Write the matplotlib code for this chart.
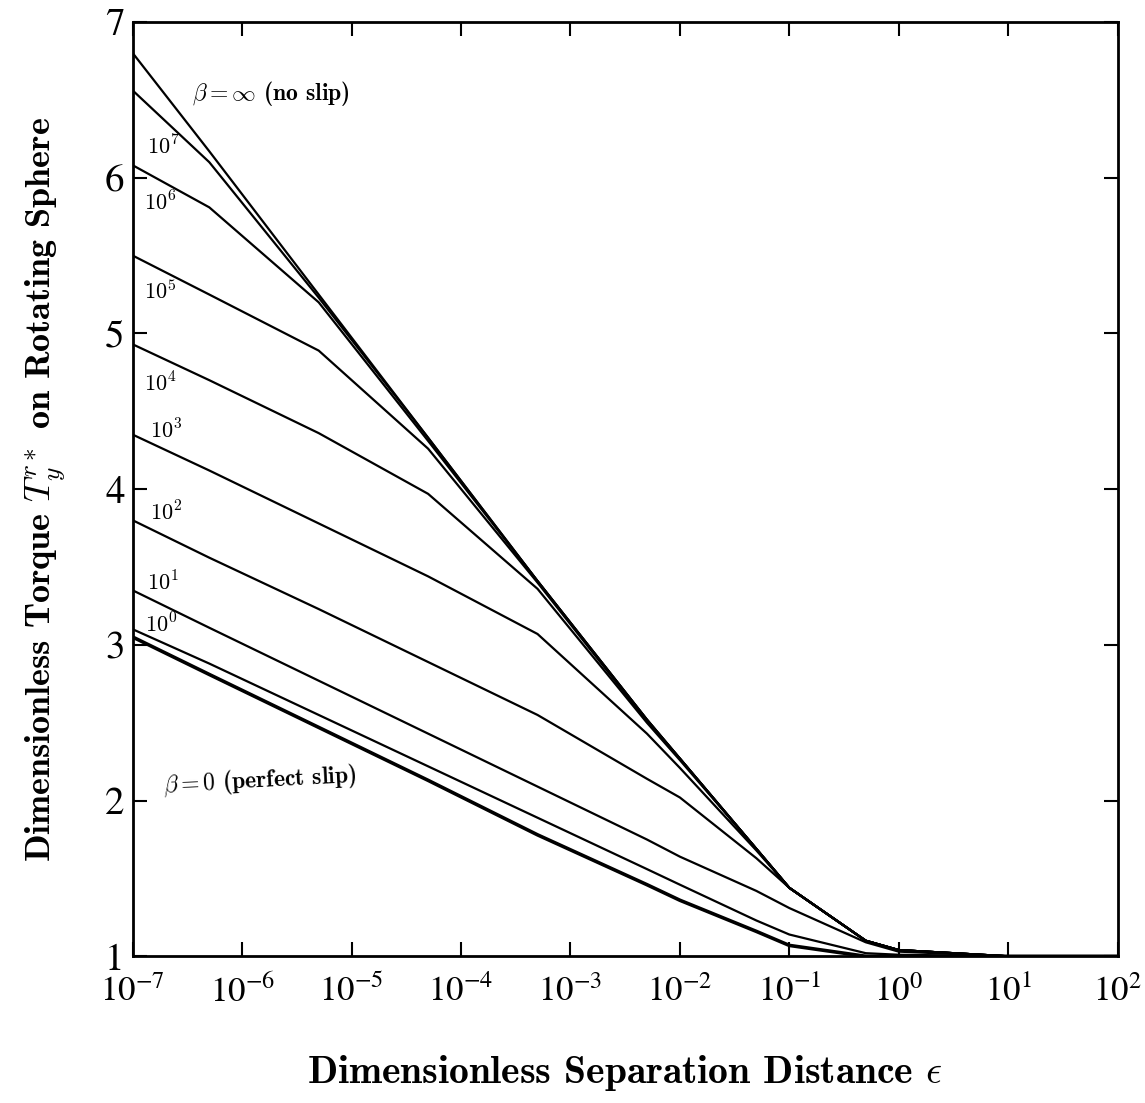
import matplotlib
matplotlib.use("Agg")
import matplotlib.pyplot as plt

# Separation distances (epsilon) at which each curve was read.
EPS = [1e-7, 5e-7, 5e-6, 5e-5, 5e-4, 5e-3, 1e-2, 5e-2, 1e-1, 5e-1, 1, 10, 100]

# Dimensionless torque for each slip coefficient beta.
T_INF = [6.80, 6.17, 5.25, 4.33, 3.41, 2.52, 2.27, 1.69, 1.44, 1.10, 1.04, 1.00, 1.00]
T_1E7 = [6.56, 6.10, 5.23, 4.33, 3.41, 2.52, 2.27, 1.69, 1.44, 1.10, 1.04, 1.00, 1.00]
T_1E6 = [6.08, 5.81, 5.20, 4.31, 3.41, 2.52, 2.27, 1.69, 1.44, 1.10, 1.04, 1.00, 1.00]
T_1E5 = [5.50, 5.25, 4.89, 4.26, 3.40, 2.51, 2.27, 1.69, 1.44, 1.10, 1.04, 1.00, 1.00]
T_1E4 = [4.93, 4.70, 4.36, 3.97, 3.36, 2.50, 2.26, 1.69, 1.44, 1.10, 1.04, 1.00, 1.00]
T_1E3 = [4.35, 4.12, 3.78, 3.44, 3.07, 2.43, 2.21, 1.68, 1.44, 1.10, 1.04, 1.00, 1.00]
T_1E2 = [3.80, 3.56, 3.23, 2.89, 2.55, 2.14, 2.02, 1.63, 1.44, 1.10, 1.04, 1.00, 1.00]
T_1E1 = [3.35, 3.11, 2.77, 2.43, 2.09, 1.75, 1.64, 1.42, 1.31, 1.09, 1.03, 1.00, 1.00]
T_1E0 = [3.10, 2.88, 2.55, 2.22, 1.89, 1.56, 1.46, 1.23, 1.14, 1.02, 1.01, 1.00, 1.00]
T_ZERO = [3.05, 2.81, 2.47, 2.13, 1.78, 1.46, 1.36, 1.16, 1.07, 1.00, 1.00, 1.00, 1.00]

CURVES = [T_INF, T_1E7, T_1E6, T_1E5, T_1E4, T_1E3, T_1E2, T_1E1, T_1E0, T_ZERO]

# Curve labels: (text, epsilon, torque)
LABELS = [
    (r"$\mathbf{10^7}$", 1.34e-7, 6.20),
    (r"$\mathbf{10^6}$", 1.27e-7, 5.84),
    (r"$\mathbf{10^5}$", 1.27e-7, 5.27),
    (r"$\mathbf{10^4}$", 1.27e-7, 4.68),
    (r"$\mathbf{10^3}$", 1.45e-7, 4.38),
    (r"$\mathbf{10^2}$", 1.45e-7, 3.85),
    (r"$\mathbf{10^1}$", 1.34e-7, 3.40),
    (r"$\mathbf{10^0}$", 1.3e-7, 3.13),
]

X_TICKS = [1e-7, 1e-6, 1e-5, 1e-4, 1e-3, 1e-2, 1e-1, 1e0, 1e1, 1e2]
X_TICK_LABELS = [r"$10^{-7}$", r"$10^{-6}$", r"$10^{-5}$", r"$10^{-4}$", r"$10^{-3}$",
                 r"$10^{-2}$", r"$10^{-1}$", r"$10^{0}$", r"$10^{1}$", r"$10^{2}$"]
Y_TICKS = [1, 2, 3, 4, 5, 6, 7]


def plot_torque() -> None:
    plt.rcParams["mathtext.fontset"] = "stix"
    plt.rcParams["font.family"] = ["STIXGeneral", "DejaVu Serif"]

    fig = plt.figure(figsize=(11.45, 11.03), dpi=100)
    ax = fig.add_axes([0.116, 0.133, 0.860, 0.847])

    for t in CURVES:
        lw = 2.6 if t is T_ZERO else 1.6
        ax.plot(EPS, t, color="black", linewidth=lw, solid_joinstyle="miter")

    ax.set_xscale("log")
    ax.set_xlim(1e-7, 1e2)
    ax.set_ylim(1, 7)

    ax.set_xticks(X_TICKS)
    ax.set_xticklabels(X_TICK_LABELS, fontsize=25)
    ax.minorticks_off()
    ax.set_yticks(Y_TICKS)
    ax.set_yticklabels([str(v) for v in Y_TICKS], fontsize=28)
    ax.tick_params(direction="in", length=10, width=1.5, top=True, right=True)
    ax.tick_params(axis="x", pad=14)
    ax.tick_params(axis="y", pad=6)
    for s in ax.spines.values():
        s.set_linewidth(2)

    ann = dict(color="black", family="cmb10", math_fontfamily="cm")
    for text, x, y in LABELS:
        ax.text(x, y, text, fontsize=16, va="center", ha="left", **ann)
    ax.text(3.5e-7, 6.54, r"$\beta = \infty$ (no slip)", fontsize=17,
            va="center", ha="left", **ann)
    ax.text(1.85e-7, 2.13, r"$\beta = 0$ (perfect slip)", fontsize=17,
            va="center", ha="left", rotation=3, **ann)

    fig.text(0.546, 0.027, r"Dimensionless Separation Distance $\epsilon$",
             fontsize=28.5, ha="center", va="center", **ann)
    fig.text(0.040, 0.556, r"Dimensionless Torque $T_y^{r*}$ on Rotating Sphere",
             fontsize=26, ha="center", va="center", rotation=90, **ann)

    plt.savefig("out.png", dpi=100)
    plt.close()


if __name__ == "__main__":
    plot_torque()
